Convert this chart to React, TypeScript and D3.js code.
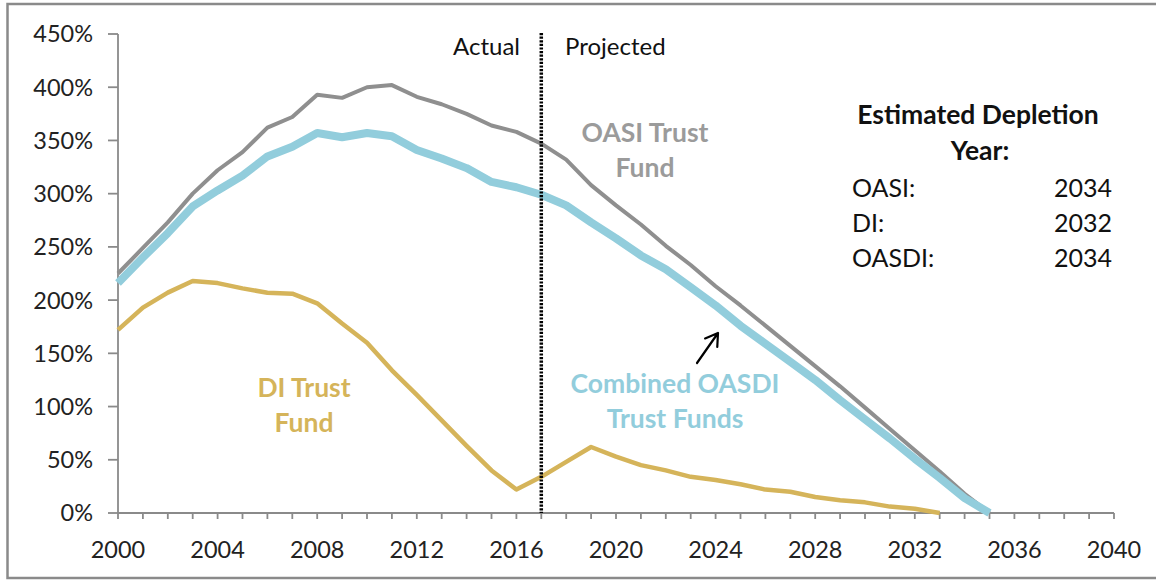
import React from "react";
import * as d3 from "d3";

const years = [2000, 2001, 2002, 2003, 2004, 2005, 2006, 2007, 2008, 2009, 2010, 2011, 2012, 2013, 2014, 2015, 2016, 2017, 2018, 2019, 2020, 2021, 2022, 2023, 2024, 2025, 2026, 2027, 2028, 2029, 2030, 2031, 2032, 2033, 2034, 2035];
const oasi = [225, 249, 273, 300, 322, 339, 362, 372, 393, 390, 400, 402, 391, 384, 375, 364, 358, 347, 332, 308, 289, 271, 251, 233, 213, 195, 176, 157, 138, 119, 99, 79, 59, 39, 18, 0];
const combined = [216, 240, 263, 288, 303, 317, 335, 344, 357, 353, 357, 354, 341, 333, 324, 311, 306, 299, 289, 273, 258, 242, 229, 212, 195, 176, 159, 142, 125, 106, 88, 70, 51, 33, 14, 0];
const di = [172, 193, 207, 218, 216, 211, 207, 206, 197, 178, 160, 134, 111, 87, 63, 40, 22, 34, 48, 62, 53, 45, 40, 34, 31, 27, 22, 20, 15, 12, 10, 6, 4, 0];
const yTicks = [0, 50, 100, 150, 200, 250, 300, 350, 400, 450];
const xLabelTicks = [2000, 2004, 2008, 2012, 2016, 2020, 2024, 2028, 2032, 2036, 2040];
const xMinorTicks = [2000, 2001, 2002, 2003, 2004, 2005, 2006, 2007, 2008, 2009, 2010, 2011, 2012, 2013, 2014, 2015, 2016, 2017, 2018, 2019, 2020, 2021, 2022, 2023, 2024, 2025, 2026, 2027, 2028, 2029, 2030, 2031, 2032, 2033, 2034, 2035, 2036, 2037, 2038, 2039, 2040];
const dividerYear = 2017;
const depletionRows = [
  { label: "OASI:", year: "2034" },
  { label: "DI:", year: "2032" },
  { label: "OASDI:", year: "2034" },
];

const FONT = "Lato, 'Open Sans', sans-serif";
const C_OASI = "#8f8f8f";
const C_OASI_TXT = "#9b9b9b";
const C_COMB = "#92cddc";
const C_DI = "#d5b45a";
const C_AXIS = "#8a8a8a";

export default function App() {
  const x = d3.scaleLinear().domain([2000, 2040]).range([118, 1114]);
  const y = d3.scaleLinear().domain([0, 450]).range([513, 34]);
  const line = d3
    .line<[number, number]>()
    .x((d) => x(d[0]))
    .y((d) => y(d[1]));
  const oasiPts = years.map((yr, i) => [yr, oasi[i]] as [number, number]);
  const combPts = years.map((yr, i) => [yr, combined[i]] as [number, number]);
  const diPts = di.map((v, i) => [years[i], v] as [number, number]);

  // arrow
  const ax1 = 697, ay1 = 363, ax2 = 718, ay2 = 333;
  const ang = Math.atan2(ay2 - ay1, ax2 - ax1);
  const hl = 14, ha = (32 * Math.PI) / 180;
  const h1x = ax2 - hl * Math.cos(ang - ha), h1y = ay2 - hl * Math.sin(ang - ha);
  const h2x = ax2 - hl * Math.cos(ang + ha), h2y = ay2 - hl * Math.sin(ang + ha);

  return (
    <svg
      width={1156}
      height={580}
      style={{ position: "absolute", left: 0, top: 0, background: "#fff" }}
      fontFamily={FONT}
    >
      <rect x={7.5} y={4} width={1160} height={574} fill="#fff" stroke="#8a8a8a" strokeWidth={2.5} />

      {/* y axis */}
      <line x1={x(2000)} x2={x(2000)} y1={y(450)} y2={y(0)} stroke={C_AXIS} strokeWidth={1.8} />
      {yTicks.map((t) => (
        <g key={"yt" + t}>
          <line x1={x(2000) - 10} x2={x(2000)} y1={y(t)} y2={y(t)} stroke={C_AXIS} strokeWidth={1.8} />
          <text x={93} y={y(t)} dy="0.36em" textAnchor="end" fontSize={23.5} fill="#222">
            {t + "%"}
          </text>
        </g>
      ))}

      {/* x axis */}
      <line x1={x(2000)} x2={x(2040)} y1={y(0)} y2={y(0)} stroke={C_AXIS} strokeWidth={1.8} />
      {xMinorTicks.map((t) => (
        <line key={"xt" + t} x1={x(t)} x2={x(t)} y1={y(0)} y2={y(0) + 6} stroke={C_AXIS} strokeWidth={1.8} />
      ))}
      {xLabelTicks.map((t) => (
        <text key={"xl" + t} x={x(t)} y={558} textAnchor="middle" fontSize={23.5} fill="#222">
          {t}
        </text>
      ))}

      {/* lines */}
      <path d={line(oasiPts) || ""} fill="none" stroke={C_OASI} strokeWidth={4} strokeLinejoin="round" />
      <path d={line(combPts) || ""} fill="none" stroke={C_COMB} strokeWidth={8} strokeLinejoin="round" />
      <path d={line(diPts) || ""} fill="none" stroke={C_DI} strokeWidth={4.5} strokeLinejoin="round" />

      {/* divider */}
      <line
        x1={x(dividerYear)}
        x2={x(dividerYear)}
        y1={y(450) - 1}
        y2={y(0)}
        stroke="#000"
        strokeWidth={3.5}
        strokeDasharray="2.2 1.4"
      />
      <text x={520} y={55} textAnchor="end" fontSize={24} fill="#111">Actual</text>
      <text x={565} y={55} textAnchor="start" fontSize={24} fill="#111">Projected</text>

      {/* series labels */}
      <g fontWeight="bold" fontSize={26.5} textAnchor="middle">
        <text x={645} y={142} fill={C_OASI_TXT}>OASI Trust</text>
        <text x={645} y={177} fill={C_OASI_TXT}>Fund</text>
        <text x={304} y={397} fill={C_DI}>DI Trust</text>
        <text x={304} y={432} fill={C_DI}>Fund</text>
        <text x={675} y={393} fill={C_COMB}>Combined OASDI</text>
        <text x={675} y={428} fill={C_COMB}>Trust Funds</text>
      </g>

      {/* arrow */}
      <path
        d={`M${ax1},${ay1} L${ax2},${ay2} M${h1x},${h1y} L${ax2},${ay2} L${h2x},${h2y}`}
        fill="none"
        stroke="#000"
        strokeWidth={2.2}
        strokeLinecap="round"
        strokeLinejoin="round"
      />

      {/* depletion table */}
      <g fontSize={26.5} fill="#111">
        <text x={978} y={124} textAnchor="middle" fontWeight="bold">Estimated Depletion</text>
        <text x={980} y={160} textAnchor="middle" fontWeight="bold">Year:</text>
        {depletionRows.map((r, i) => (
          <g key={r.label}>
            <text x={852} y={197 + i * 35} fontSize={25}>{r.label}</text>
            <text x={1112} y={197 + i * 35} fontSize={25} textAnchor="end">{r.year}</text>
          </g>
        ))}
      </g>
    </svg>
  );
}
